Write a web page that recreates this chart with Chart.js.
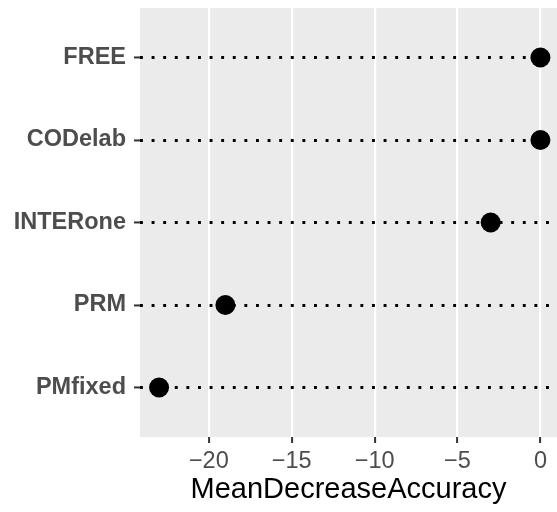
<!DOCTYPE html>
<html>
<head>
<meta charset="utf-8">
<script src="https://cdn.jsdelivr.net/npm/chart.js@4.4.1/dist/chart.umd.min.js"></script>
<style>
  html, body { margin: 0; padding: 0; background: #ffffff; }
  #chart { display: block; }
</style>
</head>
<body>
<canvas id="chart" width="557" height="512"></canvas>
<script>
const variables = ["FREE", "CODelab", "INTERone", "PRM", "PMfixed"];
const meanDecreaseAccuracy = [0, 0, -3, -19, -23];
const xTicks = [-20, -15, -10, -5, 0];

const colors = {
  panel: "#ebebeb",
  grid: "#ffffff",
  text: "#4d4d4d",
  tick: "#333333",
  ink: "#000000",
};

const fontFamily = "'Liberation Sans', Arial, Helvetica, sans-serif";

const panelBackground = {
  id: "panelBackground",
  beforeDraw(chart) {
    const { ctx, chartArea } = chart;
    ctx.save();
    ctx.fillStyle = colors.panel;
    ctx.fillRect(chartArea.left, chartArea.top, chartArea.right - chartArea.left, chartArea.bottom - chartArea.top);
    ctx.restore();
  },
};

// keep the panel edges where ggplot put them, not where label overflow wants them
function noLabelPadding(scale) {
  scale.paddingLeft = 0;
  scale.paddingRight = 0;
  scale.paddingTop = 0;
  scale.paddingBottom = 0;
}

new Chart(document.querySelector("#chart"), {
  type: "scatter",
  data: {
    datasets: [{
      label: "MeanDecreaseAccuracy",
      data: variables.map((name, index) => ({ x: meanDecreaseAccuracy[index], y: index + 1 })),
      backgroundColor: colors.ink,
      borderWidth: 0,
      pointRadius: 10,
      pointHoverRadius: 10,
    }],
  },
  options: {
    responsive: false,
    animation: false,
    events: [],
    layout: { autoPadding: false, padding: { top: 8, right: 0, left: 0, bottom: 0 } },
    plugins: {
      legend: { display: false },
      tooltip: { enabled: false },
    },
    scales: {
      x: {
        type: "linear",
        min: -24.15,
        max: 1.0,
        afterBuildTicks: (scale) => {
          scale.ticks = xTicks.map((value) => ({ value }));
        },
        afterFit: (scale) => {
          scale.height = 75;
          noLabelPadding(scale);
        },
        grid: {
          color: colors.grid,
          lineWidth: 2.2,
          tickColor: colors.tick,
          tickLength: 6,
          tickWidth: 2,
        },
        border: { display: false },
        ticks: {
          color: colors.text,
          padding: 4,
          maxRotation: 0,
          font: { family: fontFamily, size: 23.5 },
          callback: (value) => (value < 0 ? "\u2212" + Math.abs(value) : String(value)),
        },
        title: {
          display: true,
          text: "MeanDecreaseAccuracy",
          color: colors.ink,
          font: { family: fontFamily, size: 29 },
          padding: { top: 0, bottom: 5 },
        },
      },
      y: {
        type: "linear",
        reverse: true,
        min: 0.4,
        max: 5.6,
        afterBuildTicks: (scale) => {
          scale.ticks = variables.map((name, index) => ({ value: index + 1 }));
        },
        afterFit: (scale) => {
          scale.width = 140;
          noLabelPadding(scale);
        },
        grid: {
          color: colors.ink,
          lineWidth: 2.9,
          tickColor: colors.tick,
          tickLength: 6,
          tickWidth: 2,
        },
        border: { display: false, dash: [2.9, 8.7], dashOffset: 0 },
        ticks: {
          color: colors.text,
          padding: 8,
          font: { family: fontFamily, size: 23.5, weight: "bold" },
          callback: (value) => variables[Math.round(value) - 1] || "",
        },
      },
    },
  },
  plugins: [panelBackground],
});
</script>
</body>
</html>
